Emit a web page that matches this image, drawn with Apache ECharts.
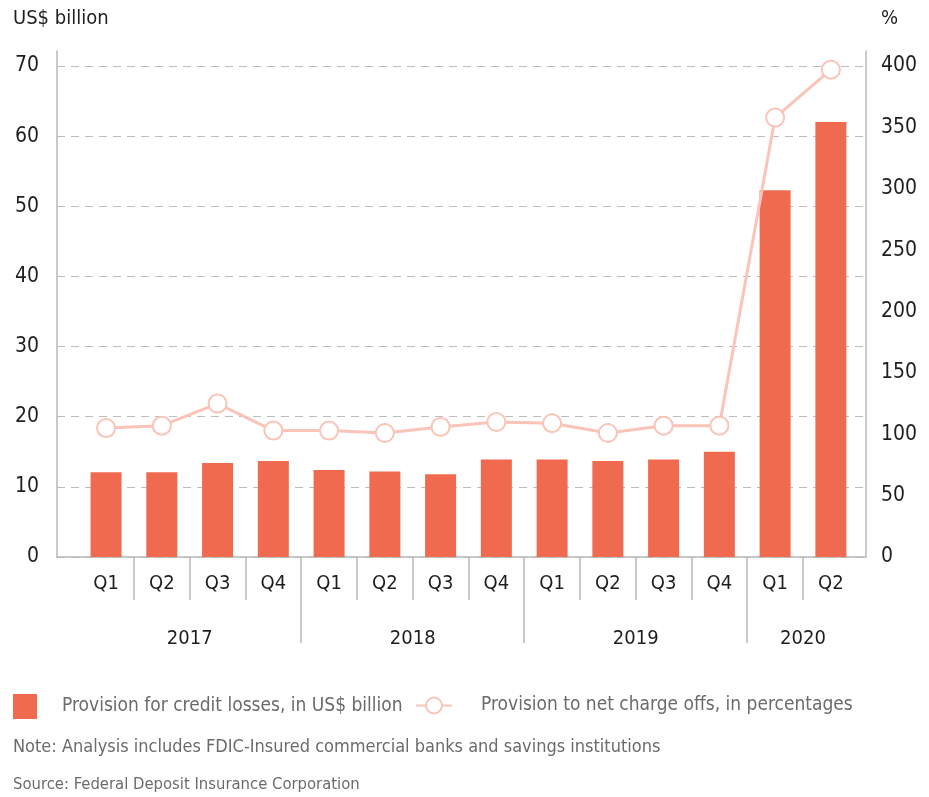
<!DOCTYPE html>
<html>
<head>
<meta charset="utf-8">
<script src="https://cdn.jsdelivr.net/npm/echarts@6/dist/echarts.min.js"></script>
<style>
html, body { margin: 0; padding: 0; background: #fff; }
#chart { width: 929px; height: 797px; }
</style>
</head>
<body>
<div id="chart"></div>
<script>
var quarters = ['Q1', 'Q2', 'Q3', 'Q4', 'Q1', 'Q2', 'Q3', 'Q4', 'Q1', 'Q2', 'Q3', 'Q4', 'Q1', 'Q2'];
var years = ['2017', '2018', '2019', '2020'];
var quartersPerYear = [4, 4, 4, 2];
var provision = [12.1, 12.1, 13.4, 13.7, 12.4, 12.2, 11.8, 13.9, 13.9, 13.7, 13.9, 15.0, 52.3, 62.0];
var provisionRatio = [105, 107, 125, 103, 103, 101, 106, 110, 109, 101, 107, 107, 358, 397];

var barName = 'Provision for credit losses, in US$ billion';
var lineName = 'Provision to net charge offs, in percentages';

var font = "'Liberation Sans Narrow', 'Arial Narrow', 'DejaVu Sans Condensed', sans-serif";
var grey = '#b8b8b8';
var ink = '#1e1e1e';

// quarters sit on a value axis (index = centre of the quarter)
var xMin = -0.88, xMax = 13.63;
var centers = quarters.map(function (q, i) { return i; });
var yearCenters = [], yearBounds = [], start = 0;
quartersPerYear.forEach(function (n, k) {
    yearCenters.push(start + (n - 1) / 2);
    start += n;
    if (k < quartersPerYear.length - 1) yearBounds.push(start - 0.5);
});
var quarterTicks = [];
for (var i = 0; i < quarters.length - 1; i++) {
    if (yearBounds.indexOf(i + 0.5) < 0) quarterTicks.push(i + 0.5);
}

var barData = provision.map(function (v, i) { return [i, v]; });
var lineData = provisionRatio.map(function (v, i) { return [i, v]; });

var chart = echarts.init(document.getElementById('chart'));

var option = {
    animation: false,
    textStyle: { fontFamily: font },
    title: [
        { text: 'US$ billion', left: 13, top: 9, padding: 0, textStyle: { fontSize: 20, fontWeight: 'normal', color: ink, fontFamily: font } },
        { text: '%', left: 881, top: 9, padding: 0, textStyle: { fontSize: 20, fontWeight: 'normal', color: ink, fontFamily: font } },
        { text: 'Note: Analysis includes FDIC-Insured commercial banks and savings institutions', left: 13, top: 738, padding: 0,
          textStyle: { fontSize: 18, fontWeight: 'normal', color: '#6b6b6b', fontFamily: font } },
        { text: 'Source: Federal Deposit Insurance Corporation', left: 13, top: 776, padding: 0,
          textStyle: { fontSize: 16.5, fontWeight: 'normal', color: '#6b6b6b', fontFamily: font } }
    ],
    legend: [
        {
            data: [barName], left: 13, top: 694, padding: 0, icon: 'rect', itemWidth: 24, itemHeight: 25,
            textStyle: { fontSize: 19, color: '#6b6b6b', fontFamily: font, padding: [0, 0, 0, 20] }
        },
        {
            data: [lineName], left: 415, top: 696, padding: 0, itemWidth: 36, itemHeight: 20,
            textStyle: { fontSize: 19, color: '#6b6b6b', fontFamily: font, padding: [0, 0, 0, 24] }
        }
    ],
    grid: [
        { left: 57, right: 63, top: 51, bottom: 240 },
        { left: 57, right: 63, top: 66, bottom: 240 }
    ],
    xAxis: [
        { gridIndex: 0, type: 'value', show: false, min: 0, max: 1 },
        {
            gridIndex: 1, type: 'value', position: 'bottom', min: xMin, max: xMax,
            axisLine: { show: true, lineStyle: { color: grey, width: 1.5 } },
            axisTick: { show: true, customValues: quarterTicks, length: 43, lineStyle: { color: grey, width: 1.5 } },
            axisLabel: {
                customValues: centers, margin: 17, fontSize: 20, color: ink, fontFamily: font,
                formatter: function (v) { return quarters[Math.round(v)]; }
            },
            splitLine: { show: false }
        },
        {
            gridIndex: 1, type: 'value', position: 'bottom', offset: 0, min: xMin, max: xMax,
            axisLine: { show: false },
            axisTick: { show: true, customValues: yearBounds, length: 86, lineStyle: { color: grey, width: 1.5 } },
            axisLabel: {
                customValues: yearCenters, margin: 72, fontSize: 20, color: ink, fontFamily: font,
                formatter: function (v) { return years[yearCenters.indexOf(v)]; }
            },
            splitLine: { show: false }
        }
    ],
    yAxis: [
        {
            gridIndex: 0, type: 'value', position: 'left', min: 0, max: 1,
            axisLine: { show: true, lineStyle: { color: grey, width: 1.5 } },
            axisTick: { show: false }, axisLabel: { show: false }, splitLine: { show: false }
        },
        {
            gridIndex: 0, type: 'value', position: 'right', min: 0, max: 1,
            axisLine: { show: true, lineStyle: { color: grey, width: 1.5 } },
            axisTick: { show: false }, axisLabel: { show: false }, splitLine: { show: false }
        },
        {
            gridIndex: 1, type: 'value', position: 'left', min: 0, max: 70, interval: 10,
            axisLine: { show: false }, axisTick: { show: false },
            axisLabel: { margin: 18, fontSize: 21, color: ink, fontFamily: font },
            splitLine: { show: true, lineStyle: { color: '#bdbdbd', width: 1.2, type: [8, 6] } }
        },
        {
            gridIndex: 1, type: 'value', position: 'right', min: 0, max: 400, interval: 50,
            axisLine: { show: false }, axisTick: { show: false },
            axisLabel: { margin: 15, fontSize: 21, color: ink, fontFamily: font },
            splitLine: { show: false }
        }
    ],
    series: [
        {
            name: barName, type: 'bar', xAxisIndex: 1, yAxisIndex: 2,
            data: barData, barWidth: 31,
            itemStyle: { color: '#f06a50' }
        },
        {
            name: lineName, type: 'line', xAxisIndex: 1, yAxisIndex: 3,
            data: lineData, symbol: 'emptyCircle', symbolSize: 18,
            lineStyle: { color: '#fac4b8', width: 3 },
            itemStyle: { color: '#fac4b8', borderColor: '#fac4b8', borderWidth: 3 }
        }
    ]
};

chart.setOption(option);
</script>
</body>
</html>
